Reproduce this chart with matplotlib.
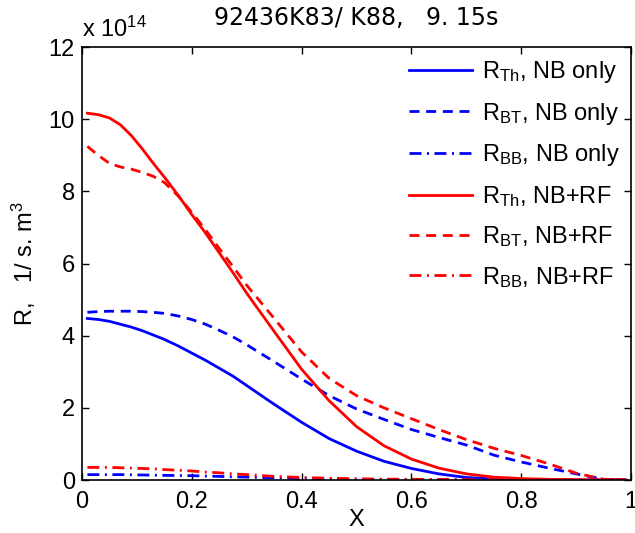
import numpy as np
import matplotlib
matplotlib.use("Agg")
import matplotlib.pyplot as plt

plt.rcParams['font.family'] = ['Liberation Sans', 'DejaVu Sans']
plt.rcParams['mathtext.fontset'] = 'custom'
plt.rcParams['mathtext.rm'] = 'Liberation Sans'
plt.rcParams['mathtext.it'] = 'Liberation Sans'

# normalised radius
x = [0.01, 0.03, 0.05, 0.07, 0.09, 0.11, 0.13, 0.15, 0.175, 0.2, 0.225, 0.25, 0.275, 0.3,
     0.35, 0.4, 0.45, 0.5, 0.55, 0.6, 0.65, 0.7, 0.75, 0.8, 0.85, 0.9, 0.95, 0.99]

# reaction rates, units of 1e14 1/(s m^3)
th_nb = [4.48, 4.45, 4.40, 4.32, 4.24, 4.14, 4.02, 3.90, 3.72, 3.52, 3.32, 3.10, 2.88, 2.62,
         2.10, 1.60, 1.15, 0.80, 0.52, 0.32, 0.17, 0.07, 0.03, 0.01, 0.0, 0.0, 0.0, 0.0]
bt_nb = [4.65, 4.67, 4.68, 4.68, 4.68, 4.67, 4.65, 4.62, 4.55, 4.45, 4.32, 4.15, 3.97, 3.75,
         3.28, 2.80, 2.34, 1.97, 1.68, 1.40, 1.18, 0.97, 0.69, 0.50, 0.33, 0.17, 0.02, 0.0]
bb_nb = [0.15, 0.15, 0.15, 0.15, 0.145, 0.14, 0.135, 0.13, 0.125, 0.12, 0.11, 0.10, 0.09, 0.08,
         0.06, 0.04, 0.025, 0.015, 0.01, 0.005, 0.003, 0.002, 0.001, 0.0, 0.0, 0.0, 0.0, 0.0]
th_rf = [10.17, 10.13, 10.04, 9.85, 9.55, 9.18, 8.78, 8.40, 7.90, 7.36, 6.85, 6.30, 5.75, 5.18,
         4.12, 3.07, 2.20, 1.48, 0.95, 0.58, 0.33, 0.17, 0.08, 0.04, 0.02, 0.01, 0.0, 0.0]
bt_rf = [9.25, 9.00, 8.78, 8.68, 8.62, 8.53, 8.42, 8.25, 7.88, 7.42, 6.94, 6.42, 5.92, 5.40,
         4.48, 3.55, 2.82, 2.34, 2.00, 1.70, 1.40, 1.12, 0.88, 0.68, 0.45, 0.19, 0.02, 0.0]
bb_rf = [0.35, 0.35, 0.35, 0.34, 0.33, 0.32, 0.31, 0.29, 0.27, 0.25, 0.22, 0.20, 0.17, 0.15,
         0.10, 0.07, 0.05, 0.035, 0.025, 0.02, 0.015, 0.01, 0.008, 0.005, 0.003, 0.002, 0.001, 0.0]

fs = 17
lw = 2.0
dash = (0, (3.6, 2.4))
dashdot = (0, (4.3, 2.0, 0.7, 2.0))

fig = plt.figure(figsize=(6.35, 5.33), dpi=100)
ax = fig.add_axes([0.129, 0.0994, 0.865, 0.812])

ax.plot(x, th_nb, color='#0000ff', lw=lw, ls='-', label=r'R$_{\mathrm{Th}}$, NB only')
ax.plot(x, bt_nb, color='#0000ff', lw=lw, ls=dash, label=r'R$_{\mathrm{BT}}$, NB only')
ax.plot(x, bb_nb, color='#0000ff', lw=lw, ls=dashdot, label=r'R$_{\mathrm{BB}}$, NB only')
ax.plot(x, th_rf, color='#ff0000', lw=lw, ls='-', label=r'R$_{\mathrm{Th}}$, NB+RF')
ax.plot(x, bt_rf, color='#ff0000', lw=lw, ls=dash, label=r'R$_{\mathrm{BT}}$, NB+RF')
ax.plot(x, bb_rf, color='#ff0000', lw=lw, ls=dashdot, label=r'R$_{\mathrm{BB}}$, NB+RF')

ax.set_xlim(0, 1)
ax.set_ylim(0, 12)
ax.set_xticks([0, 0.2, 0.4, 0.6, 0.8, 1])
ax.set_xticklabels(['0', '0.2', '0.4', '0.6', '0.8', '1'])
ax.set_yticks([0, 2, 4, 6, 8, 10, 12])
ax.tick_params(direction='in', top=True, right=True, length=5, width=1,
               labelsize=fs)
ax.tick_params(axis='x', pad=8)
ax.tick_params(axis='y', pad=5)
for s in ax.spines.values():
    s.set_linewidth(1.2)

ax.set_title('92436K83/ K88,   9. 15s', fontsize=fs, family='DejaVu Sans', pad=16)
ax.set_xlabel('X', fontsize=fs, labelpad=-3)
ax.set_ylabel(r'R,   1/ s. m$^3$', fontsize=fs, labelpad=8)
ax.text(0.0, 1.012, r'x 10$^{14}$', transform=ax.transAxes, fontsize=fs,
        ha='left', va='bottom')

ax.legend(loc='upper right', frameon=False, fontsize=fs, handlelength=2.67,
          handletextpad=0.42, labelspacing=0.66, borderaxespad=0.1,
          bbox_to_anchor=(1.0, 1.0))

fig.savefig('out.png', dpi=100)
